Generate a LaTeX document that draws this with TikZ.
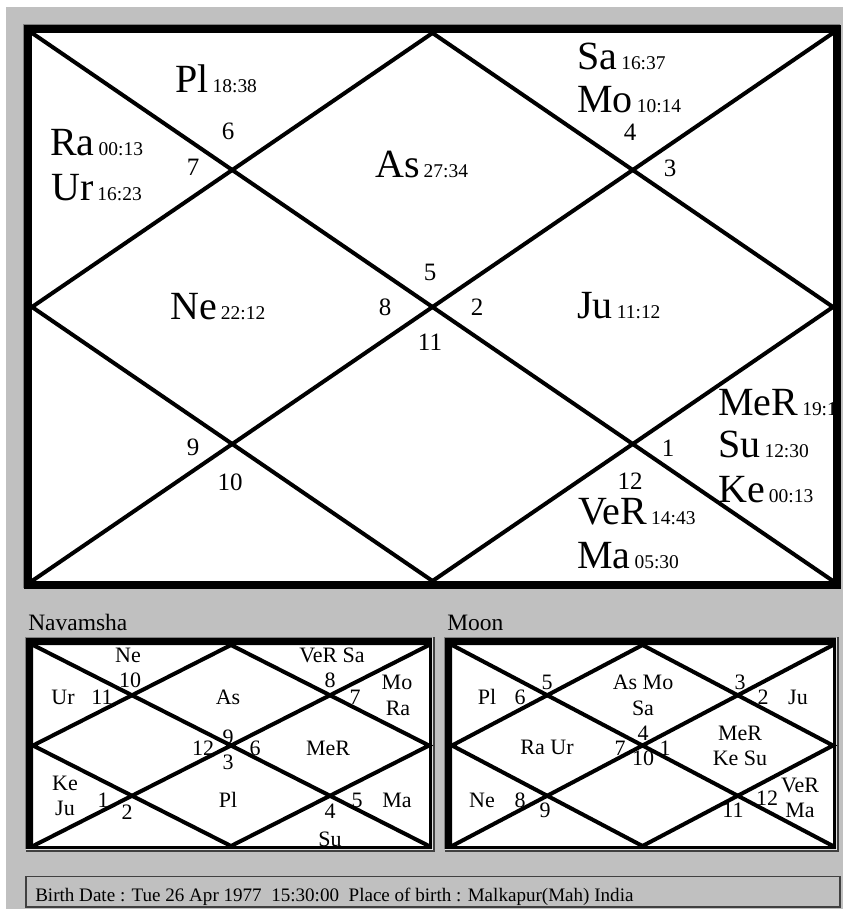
\documentclass[tikz,border=0pt]{standalone}
\usepackage{fontspec}
\setmainfont{LiberationSerif}[Extension=.ttf, UprightFont=*-Regular, BoldFont=*-Bold]
\usepackage{tikz}

\definecolor{panelgray}{HTML}{C0C0C0}
\definecolor{edgegray}{HTML}{808080}
\definecolor{edgedark}{HTML}{404040}

\newcommand{\bigf}{\fontsize{30}{36}\selectfont}
\newcommand{\degf}{\fontsize{14.6}{17}\selectfont}
\newcommand{\numf}{\fontsize{18.75}{22}\selectfont}
\newcommand{\smallf}{\fontsize{16.5}{19}\selectfont}
\newcommand{\capf}{\fontsize{17.6}{20}\selectfont}
\newcommand{\birthf}{\fontsize{14.3}{17}\selectfont}
\newcommand{\grah}[2]{{\bigf #1}\hspace{3pt}{\degf #2}}

\begin{document}
\begin{tikzpicture}[x=0.75pt, y=-0.75pt,
  chartline/.style={line width=3pt},
  planet/.style={anchor=base west, inner sep=0pt},
  housenum/.style={font=\numf, inner sep=0pt, text height=12.4pt, text depth=0pt},
  chartlbl/.style={font=\smallf, inner sep=0pt, text height=10.9pt, text depth=0pt}]
  \useasboundingbox (0,0) rectangle (843,909);
  \fill[white] (0,0) rectangle (843,909);
  \fill[panelgray] (6,7) rectangle (843,909);
  \fill[white] (24,25) rectangle (840,588);
  \foreach \xa/\ya/\xb/\yb in {33/645/429/846, 452/645/833/846} {
    \fill[white] (\xa-7,\ya-7) rectangle (\xb+4,\yb+4);
  }
  \foreach \xa/\ya/\xb/\yb in {32/33/833/581, 33/645/429/846, 452/645/833/846} {
    \pgfmathsetmacro{\xm}{(\xa+\xb)/2}
    \pgfmathsetmacro{\ym}{(\ya+\yb)/2}
    \draw[chartline] (\xa,\ya) -- (\xb,\yb) (\xa,\yb) -- (\xb,\ya);
    \draw[chartline] (\xm,\ya) -- (\xb,\ym) -- (\xm,\yb) -- (\xa,\ym) -- cycle;
  }

  \node[planet] (pl) at (175,93) {\grah{Pl}{18:38}};
  \node[planet] (ra) at (50,156) {\grah{Ra}{00:13}};
  \node[planet] (ur) at (51,200) {\grah{Ur}{16:23}};
  \node[planet] (as) at (375,178) {\grah{As}{27:34}};
  \node[planet] (ne) at (170,319) {\grah{Ne}{22:12}};
  \node[planet] (sa) at (577,70) {\grah{Sa}{16:37}};
  \node[planet] (mo) at (577,113) {\grah{Mo}{10:14}};
  \node[planet] (ju) at (577,318) {\grah{Ju}{11:12}};
  \node[planet] (me) at (718,415) {\grah{MeR}{19:1}};
  \node[planet] (su) at (718,457) {\grah{Su}{12:30}};
  \node[planet] (ke) at (718,502) {\grah{Ke}{00:13}};
  \node[planet] (ve) at (578,524) {\grah{VeR}{14:43}};
  \node[planet] (ma) at (577,568) {\grah{Ma}{05:30}};
  \foreach \n/\x/\y in {6/228/131, 7/193/167, 5/430/272, 8/385/307, 2/477/307, 11/430/342,
      4/630/132, 3/670/168, 9/193/447, 10/230/482, 1/668/448, 12/630/481}
    \node[housenum] (h\n) at (\x,\y) {\n};

  \node[anchor=base west, inner sep=0pt, font=\capf] (navcap) at (28,630) {Navamsha};
  \node[anchor=base west, inner sep=0pt, font=\capf] (mooncap) at (447,630) {Moon};
  \foreach \x/\y/\t [count=\k] in {128/655/Ne, 130/680/10, 63/697/Ur, 102/697/11, 228/697/As,
      332/655/VeR Sa, 330/680/8, 355/697/7, 397/682/Mo, 398/708/Ra, 228/737/9, 203/748/12,
      255/748/6, 228/762/3, 328/748/MeR, 65/783/Ke, 65/808/Ju, 103/800/1, 127/812/2,
      228/800/Pl, 357/800/5, 397/800/Ma, 330/811/4, 330/839/Su}
    \node[chartlbl] (nav\k) at (\x,\y) {\t};
  \foreach \x/\y/\t [count=\k] in {487/697/Pl, 520/697/6, 547/682/5, 643/682/As Mo, 643/708/Sa,
      740/682/3, 763/697/2, 798/697/Ju, 547/747/Ra Ur, 620/748/7, 643/733/4, 665/748/1,
      643/758/10, 740/733/MeR, 740/758/Ke Su, 482/800/Ne, 520/800/8, 545/810/9, 733/810/11,
      767/798/12, 800/785/VeR, 800/810/Ma}
    \node[chartlbl] (moon\k) at (\x,\y) {\t};

  \draw[line width=6pt] (28,29) rectangle (836.5,584.5);
  \draw[edgegray, line width=0.75pt] (23.5,588) |- (840,24.5);
  \foreach \xa/\ya/\xb/\yb in {33/645/429/846, 452/645/833/846} {
    \fill[black, even odd rule] (\xa-7,\ya-7) rectangle (\xb+3,\yb+3) (\xa,\ya) rectangle (\xb,\yb);
    \draw[edgegray, line width=0.75pt] (\xa-7.5,\yb+3) |- (\xb+3,\ya-7.5);
    \draw[edgedark, line width=1.5pt] (\xa-7,\yb+5) -| (\xb+5,\ya-8);
  }

  \draw[edgedark, line width=1.1pt] (26,876.5) rectangle (840,907);
  \node[anchor=base west, inner sep=0pt, font=\birthf] (birth) at (35,901)
    {Birth Date : Tue 26 Apr 1977\ \ 15:30:00\ \ Place of birth : Malkapur(Mah) India};
\end{tikzpicture}
\end{document}
